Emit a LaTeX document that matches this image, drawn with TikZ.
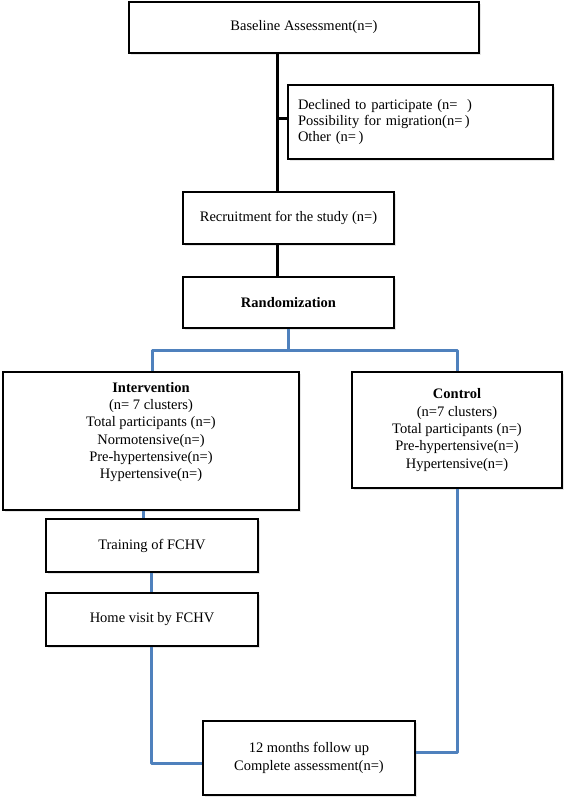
\documentclass[tikz,border=0pt]{standalone}
\usepackage{fontspec}
\setmainfont{Liberation Serif}
\usetikzlibrary{shadows}
\definecolor{linkblue}{RGB}{79,129,189}
\begin{document}
\begin{tikzpicture}[x=1pt,y=-1pt,
  box/.style={draw=black,line width=1.8pt,fill=white,rectangle,inner sep=0pt,
    drop shadow={opacity=0.2,shadow xshift=1.5pt,shadow yshift=-1.5pt},
    font=\fontsize{14.5}{17.3}\selectfont,align=center},
  txt/.style={inner sep=0pt,font=\fontsize{14.5}{17.3}\selectfont,align=center},
  blk/.style={draw=black,line width=3pt},
  blu/.style={draw=linkblue,line width=3pt,line join=round}]
\useasboundingbox (0,0) rectangle (567,801);
% boxes
\node[box,minimum width=350,minimum height=51] (base) at (304,27.5) {Baseline Assessment(n=)};
\node[box,minimum width=265,minimum height=74,align=left,text width=245,
  font=\fontsize{14.5}{15.8}\selectfont] (decl) at (420.5,122)
  {Declined to participate (n=\ \ )\\Possibility for migration(n=\,)\\Other (n=\,)};
\node[box,minimum width=211,minimum height=52] (recr) at (288.5,218) {Recruitment for the study (n=)};
\node[box,minimum width=211,minimum height=51] (rand) at (288.5,302.5) {\bfseries Randomization};
\node[box,minimum width=296,minimum height=138] (intv) at (151,441) {};
\node[txt,anchor=north] (intvt) at (151,382)
  {\bfseries Intervention\\(n= 7 clusters)\\Total participants (n=)\\Normotensive(n=)\\Pre-hypertensive(n=)\\Hypertensive(n=)};
\node[box,minimum width=210,minimum height=116] (ctrl) at (457,430)
  {\bfseries Control\\(n=7 clusters)\\Total participants (n=)\\Pre-hypertensive(n=)\\Hypertensive(n=)};
\node[box,minimum width=212,minimum height=53] (train) at (152,545.5) {Training of FCHV};
\node[box,minimum width=212,minimum height=53] (home) at (152,619.5) {Home visit by FCHV};
\node[box,minimum width=212,minimum height=74] (foll) at (309,758)
  {12 months follow up\\Complete assessment(n=)};
% coordinates
\coordinate (spine) at (277.5,0);
\coordinate (branch) at (277.5,118);
\coordinate (split) at (288,350);
\coordinate (ileft) at (152,350);
\coordinate (cright) at (457,350);
\coordinate (idrop) at (143,0);
\coordinate (ilow) at (151,763);
\coordinate (clow) at (457,752);
% black connectors
\draw[blk] (base.south -| spine) -- (recr.north -| spine);
\draw[blk] (branch) -- (branch -| decl.west);
\draw[blk] (recr.south -| spine) -- (rand.north -| spine);
% blue connectors
\draw[blu] (rand.south -| split) -- (split);
\draw[blu] (ileft |- intv.north) -- (ileft) -- (cright) -- (ctrl.north -| cright);
\draw[blu] (intv.south -| idrop) -- (train.north -| idrop);
\draw[blu] (train.south -| ilow) -- (home.north -| ilow);
\draw[blu] (home.south -| ilow) -- (ilow) -- (ilow -| foll.west);
\draw[blu] (ctrl.south -| clow) -- (clow) -- (clow -| foll.east);
\end{tikzpicture}
\end{document}
